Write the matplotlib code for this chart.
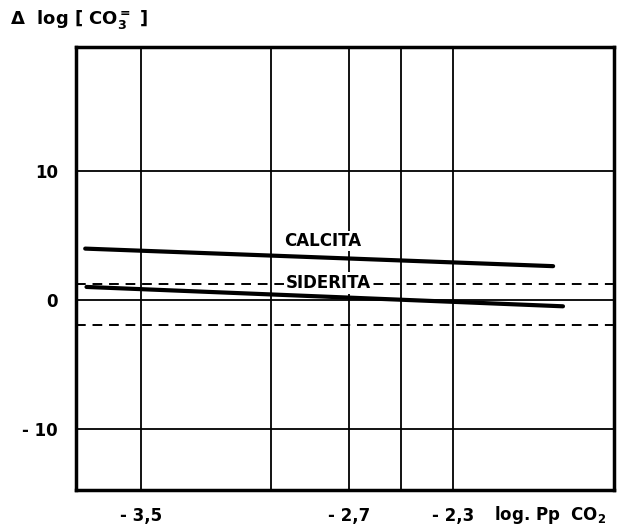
import numpy as np
import matplotlib.pyplot as plt

# data
calcita_x = [-3.715, -1.914]
calcita_y = [4.0, 2.64]
siderita_x = [-3.71, -1.876]
siderita_y = [1.03, -0.47]
dash_levels = [1.22, -1.9]
xgrid = [-3.5, -3.0, -2.7, -2.5, -2.3]
xtick_pos = [-3.5, -2.7, -2.3]
xtick_lab = ['- 3,5', '- 2,7', '- 2,3']
ytick_pos = [10, 0, -10]
ytick_lab = ['10', '0', '- 10']

fig = plt.figure(figsize=(6.29, 5.25), dpi=100)
ax = fig.add_axes([0.121, 0.0667, 0.855, 0.8433])

ax.set_xlim(-3.75, -1.68)
ax.set_ylim(-14.7, 19.6)

for xv in xgrid:
    ax.axvline(xv, color='black', lw=1.3, zorder=1)
for yv in ytick_pos:
    ax.axhline(yv, color='black', lw=1.3, zorder=1)

for yv in dash_levels:
    ax.axhline(yv, color='black', lw=1.4, ls=(0, (5, 3.5)), zorder=2)

ax.plot(calcita_x, calcita_y, color='black', lw=3, solid_capstyle='round', zorder=3)
ax.plot(siderita_x, siderita_y, color='black', lw=3, solid_capstyle='round', zorder=3)

ax.text(-2.80, 4.6, 'CALCITA', ha='center', va='center', fontsize=12,
        fontweight='bold', zorder=2.5,
        bbox=dict(facecolor='white', edgecolor='none', pad=1))
ax.text(-2.78, 1.3, 'SIDERITA', ha='center', va='center', fontsize=12,
        fontweight='bold', zorder=2.5,
        bbox=dict(facecolor='white', edgecolor='none', pad=1.5))

for s in ax.spines.values():
    s.set_linewidth(2.5)

ax.set_xticks(xtick_pos)
ax.set_xticklabels(xtick_lab, fontsize=12, fontweight='bold')
ax.set_yticks(ytick_pos)
ax.set_yticklabels(ytick_lab, fontsize=12, fontweight='bold')
ax.tick_params(axis='x', length=0, pad=12)
ax.tick_params(axis='y', length=0, pad=13)

fig.text(0.016, 0.962, r'$\mathbf{\Delta}$  log [ CO$_{\mathbf{3}}^{\mathbf{=}}$ ]', fontsize=13,
         fontweight='bold', ha='left', va='center')
fig.text(0.875, 0.019, r'log. Pp  CO$_{\mathbf{2}}$', fontsize=12,
         fontweight='bold', ha='center', va='center')

plt.savefig('out.png', dpi=100)
